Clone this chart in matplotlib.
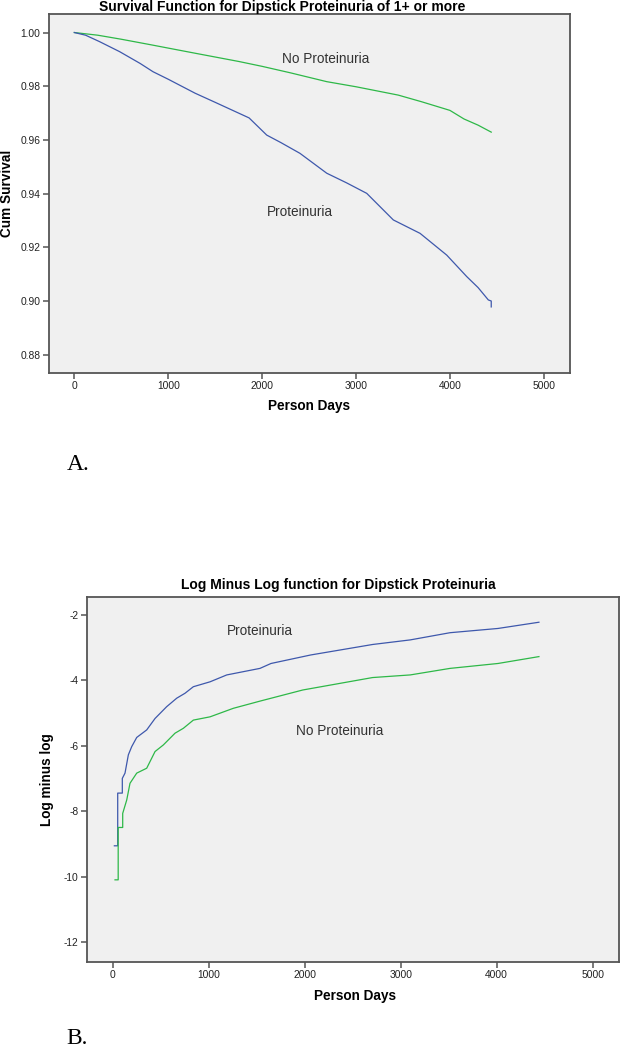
import matplotlib
matplotlib.use("Agg")
import matplotlib.pyplot as plt

# ===============================
# DATA
# ===============================
# A. survival function
surv_x_no = [0, 250, 500, 821, 1000, 1300, 1754, 2000, 2300, 2688, 3000, 3449, 3700, 4000, 4150, 4300, 4440]
surv_y_no = [1.000, 0.9990, 0.9975, 0.9954, 0.9942, 0.9922, 0.9892, 0.9874, 0.9850, 0.9817, 0.9798, 0.9767, 0.9742, 0.9710, 0.9678, 0.9655, 0.9629]

surv_x_pro = [0, 120, 269, 481, 700, 838, 1000, 1286, 1500, 1861, 2049, 2200, 2403, 2688, 2900, 3114,
              3397, 3682, 3966, 4179, 4300, 4409, 4440, 4440]
surv_y_pro = [1.000, 0.9990, 0.9966, 0.9929, 0.9885, 0.9854, 0.9826, 0.9774, 0.9740, 0.9682, 0.9618, 0.9590,
              0.9550, 0.9476, 0.9440, 0.9401, 0.9302, 0.9252, 0.9171, 0.9091, 0.9050, 0.9004, 0.9000, 0.8978]

# B. log minus log
lml_x_pro = [17, 52, 52, 100, 100, 128, 163, 198, 250, 354, 441, 562, 667, 753, 840, 1014, 1188,
             1534, 1649, 2063, 2707, 3099, 3514, 4014, 4440]
lml_y_pro = [-9.05, -9.05, -7.44, -7.44, -6.99, -6.83, -6.27, -6.02, -5.74, -5.51, -5.16, -4.80, -4.54, -4.39,
             -4.19, -4.04, -3.83, -3.63, -3.48, -3.22, -2.90, -2.76, -2.54, -2.41, -2.22]

lml_x_no = [24, 57, 57, 104, 104, 146, 180, 250, 354, 441, 527, 649, 736, 840, 1014, 1256, 1534,
            1980, 2707, 3099, 3514, 4014, 4440]
lml_y_no = [-10.09, -10.09, -8.49, -8.49, -8.06, -7.65, -7.14, -6.83, -6.68, -6.17, -5.97, -5.61, -5.46,
            -5.21, -5.11, -4.85, -4.63, -4.29, -3.91, -3.83, -3.63, -3.48, -3.27]

x_ticks = [0, 1000, 2000, 3000, 4000, 5000]
surv_ticks = [0.88, 0.90, 0.92, 0.94, 0.96, 0.98, 1.00]
lml_ticks = [-12, -10, -8, -6, -4, -2]

BLUE = "#3e58ac"
GREEN = "#2eb848"
FRAME = "#555555"
BG = "#f0f0f0"

plt.rcParams["font.family"] = ["Liberation Sans", "DejaVu Sans"]
plt.rcParams["axes.unicode_minus"] = False

W, H = 621, 1050
fig = plt.figure(figsize=(W / 100, H / 100), dpi=100)


def px_rect(l, t, r, b):
    return [l / W, 1 - b / H, (r - l) / W, (b - t) / H]


def style(ax):
    ax.set_facecolor(BG)
    for sp in ax.spines.values():
        sp.set_color(FRAME)
        sp.set_linewidth(1.3)
    ax.tick_params(direction="out", length=4.5, width=1.1, color=FRAME,
                   labelsize=7.4, labelcolor="#222222", pad=1.5)


# ===============================
# A. SURVIVAL FUNCTION
# ===============================
ax1 = fig.add_axes(px_rect(48.7, 14, 570.3, 372.7))
style(ax1)
ax1.plot(surv_x_no, surv_y_no, color=GREEN, lw=0.9)
ax1.plot(surv_x_pro, surv_y_pro, color=BLUE, lw=0.9)
ax1.set_xlim(-273, 5282)
ax1.set_ylim(0.8733, 1.0069)
ax1.set_xticks(x_ticks)
ax1.set_yticks(surv_ticks)
ax1.set_yticklabels([f"{v:.2f}" for v in surv_ticks])
ax1.set_xlabel("Person Days", fontsize=9.8, fontweight="bold")
ax1.set_ylabel("Cum Survival", fontsize=9.8, fontweight="bold")
ax1.xaxis.set_label_coords(0.5, -0.093)
ax1.yaxis.set_label_coords(-0.080, 0.5)
ax1.xaxis.label.set_va("center")
ax1.yaxis.label.set_va("center")
ax1.text(2680, 0.9902, "No Proteinuria", fontsize=9.8, color="#333333", ha="center", va="center")
ax1.text(2404, 0.9333, "Proteinuria", fontsize=9.8, color="#333333", ha="center", va="center")

fig.text(282 / W, 1 - 10.5 / H, "Survival Function for Dipstick Proteinuria of 1+ or more",
         fontsize=10, fontweight="bold", ha="center", va="baseline")
fig.text(78 / W, 1 - 470.5 / H, "A.", family="Liberation Serif", fontsize=17,
         ha="center", va="baseline")

# ===============================
# B. LOG MINUS LOG
# ===============================
ax2 = fig.add_axes(px_rect(86.7, 596.7, 618.7, 962))
style(ax2)
ax2.plot(lml_x_pro, lml_y_pro, color=BLUE, lw=0.9)
ax2.plot(lml_x_no, lml_y_no, color=GREEN, lw=0.9)
ax2.set_xlim(-271, 5271)
ax2.set_ylim(-12.6, -1.44)
ax2.set_xticks(x_ticks)
ax2.set_yticks(lml_ticks)
ax2.set_xlabel("Person Days", fontsize=9.8, fontweight="bold")
ax2.set_ylabel("Log minus log", fontsize=9.8, fontweight="bold")
ax2.xaxis.set_label_coords(0.504, -0.093)
ax2.yaxis.set_label_coords(-0.0746, 0.5)
ax2.xaxis.label.set_va("center")
ax2.yaxis.label.set_va("center")
ax2.text(1534, -2.48, "Proteinuria", fontsize=9.8, color="#333333", ha="center", va="center")
ax2.text(2368, -5.54, "No Proteinuria", fontsize=9.8, color="#333333", ha="center", va="center")

fig.text(338 / W, 1 - 589.3 / H, "Log Minus Log function for Dipstick Proteinuria",
         fontsize=10, fontweight="bold", ha="center", va="baseline")
fig.text(77 / W, 1 - 1044 / H, "B.", family="Liberation Serif", fontsize=17,
         ha="center", va="baseline")

fig.savefig("out.png", dpi=100, facecolor="white")
